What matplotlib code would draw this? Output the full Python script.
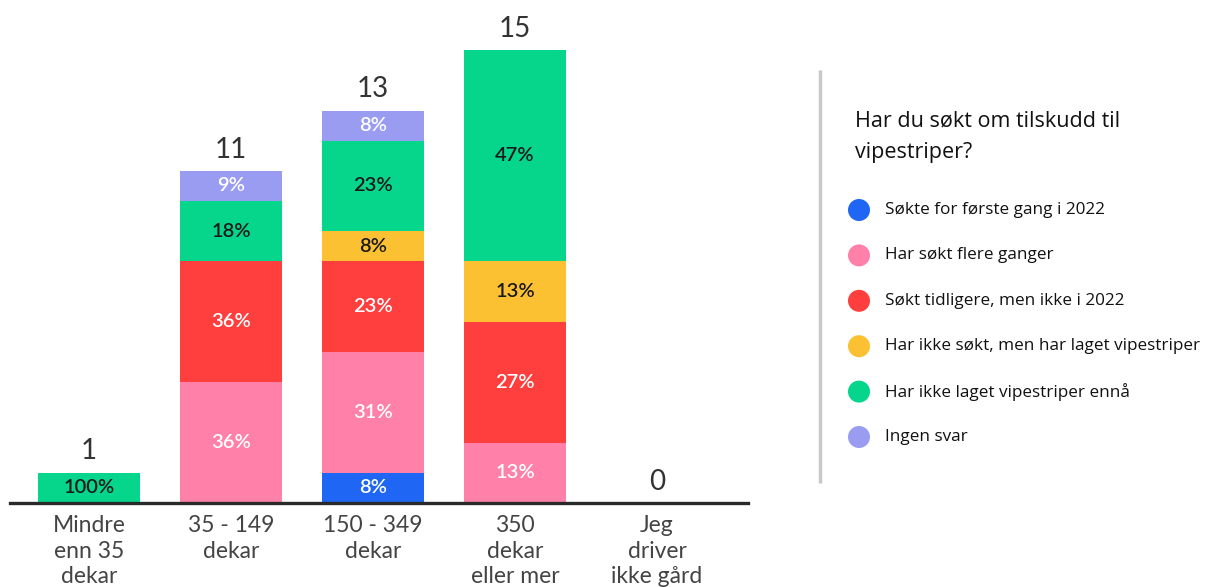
import matplotlib.pyplot as plt
from matplotlib.patches import Circle

# Responses per farm size (number of farmers in each answer group)
categories = ["Mindre\nenn 35\ndekar", "35 - 149\ndekar", "150 - 349\ndekar",
              "350\ndekar\neller mer", "Jeg\ndriver\nikke gård"]
sokte_forste = [0, 0, 1, 0, 0]
sokt_flere = [0, 4, 4, 2, 0]
sokt_tidligere = [0, 4, 3, 4, 0]
ikke_sokt_laget = [0, 0, 1, 2, 0]
ikke_laget = [1, 2, 3, 7, 0]
ingen_svar = [0, 1, 1, 0, 0]

series = [sokte_forste, sokt_flere, sokt_tidligere, ikke_sokt_laget, ikke_laget, ingen_svar]
legend_labels = ["Søkte for første gang i 2022", "Har søkt flere ganger",
                 "Søkt tidligere, men ikke i 2022", "Har ikke søkt, men har laget vipestriper",
                 "Har ikke laget vipestriper ennå", "Ingen svar"]
colors = ["#1f66f4", "#ff80a8", "#ff3e3e", "#fcc132", "#05d68c", "#9a9cf2"]
text_colors = ["white", "white", "white", "#1a1a1a", "#1a1a1a", "white"]
legend_title = "Har du søkt om tilskudd til\nvipestriper?"

W, H = 1208, 587
fig = plt.figure(figsize=(W / 100, H / 100), dpi=100)

# full-figure overlay in pixel units for the legend panel
lax = fig.add_axes([0, 0, 1, 1])
lax.set_xlim(0, W)
lax.set_ylim(H, 0)
lax.axis("off")

ax = fig.add_axes([10 / W, (H - 503) / H, 738 / W, 503 / H])
x = list(range(len(categories)))
totals = [sum(s[i] for s in series) for i in x]
bottom = [0] * len(x)
for vals, col, tcol in zip(series, colors, text_colors):
    ax.bar(x, vals, bottom=bottom, width=0.72, color=col, linewidth=0)
    for i, v in enumerate(vals):
        if v > 0:
            pct = round(100 * v / totals[i])
            ax.text(i, bottom[i] + v / 2, f"{pct}%", ha="center", va="center",
                    color=tcol, fontsize=14.5, fontweight="semibold", family="Lato")
    bottom = [b + v for b, v in zip(bottom, vals)]

for i, t in enumerate(totals):
    ax.annotate(str(t), (i, t), xytext=(0, 6), textcoords="offset points",
                ha="center", va="bottom", fontsize=20, color="#333333", family="Lato")

ax.set_xlim(-0.556, 4.64)
ax.set_ylim(0, 16.66)
ax.set_xticks(x, categories)
ax.tick_params(axis="x", length=0, pad=9, labelsize=16.5, labelcolor="#444444")
for lbl in ax.get_xticklabels():
    lbl.set_family("Lato")
    lbl.set_linespacing(1.25)
ax.set_yticks([])
for side in ["top", "right", "left"]:
    ax.spines[side].set_visible(False)
ax.spines["bottom"].set_color("#2a2a2a")
ax.spines["bottom"].set_linewidth(2.4)
ax.patch.set_alpha(0)

# legend panel
lax.plot([820, 820], [70, 483], color="#c8c8c8", lw=2.5, solid_capstyle="butt")
lax.text(855, 137, legend_title, ha="left", va="center", fontsize=15.5,
         family="Open Sans", color="#111111", linespacing=1.65)
for k, (lab, col) in enumerate(zip(legend_labels, colors)):
    y = 210 + k * 45.4
    lax.add_patch(Circle((859, y), 11, color=col, lw=0))
    lax.text(885, y, lab, ha="left", va="center", fontsize=12.3,
             family="Open Sans", color="#111111")

fig.savefig("out.png", dpi=100)
